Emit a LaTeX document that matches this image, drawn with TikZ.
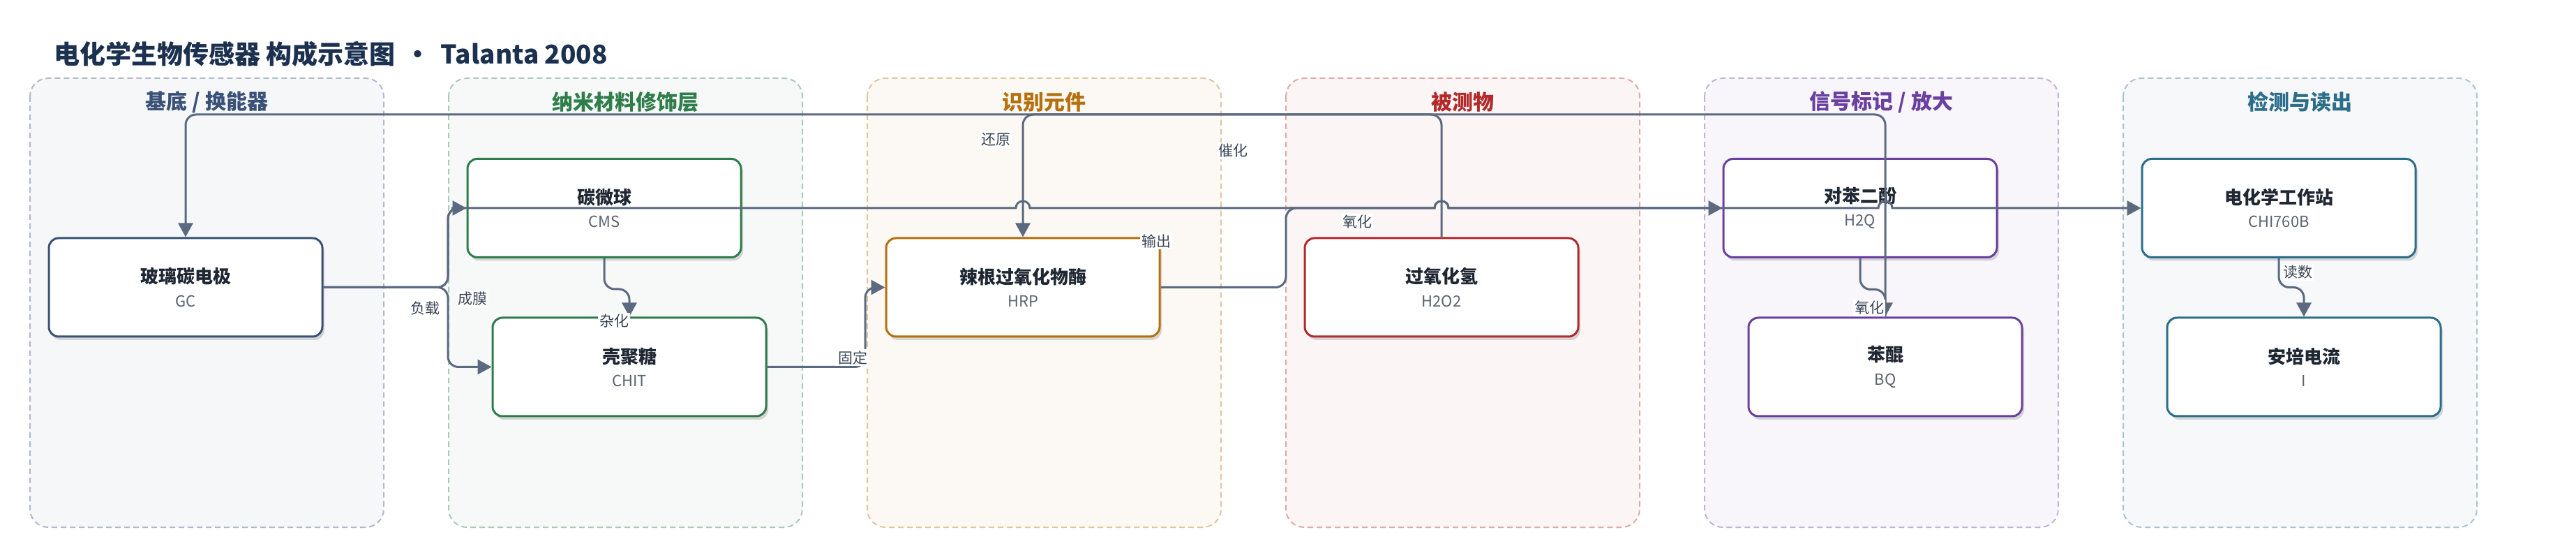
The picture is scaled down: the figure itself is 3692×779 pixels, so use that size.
\documentclass[tikz,border=0pt]{standalone}
\usepackage{fontspec}
\setmainfont{Noto Sans CJK SC}
\usepackage{tikz}
\usetikzlibrary{arrows.meta, shadows}

% colours
\definecolor{edgeC}{HTML}{5B6A80}
\definecolor{titleC}{HTML}{1C3150}
\definecolor{inkC}{HTML}{1F2733}
\definecolor{subC}{HTML}{5B6472}
\definecolor{lblC}{HTML}{3A4556}
\definecolor{pA}{HTML}{3B5278}
\definecolor{pB}{HTML}{2E7D4A}
\definecolor{pC}{HTML}{B5700C}
\definecolor{pD}{HTML}{B22A2A}
\definecolor{pE}{HTML}{6A3FA0}
\definecolor{pF}{HTML}{2C6E8A}

\newcommand{\subtag}[1]{{\mdseries\fontsize{11pt}{16.6pt}\selectfont\color{subC}#1}}

\tikzset{
    panel/.style={draw=#1!40, fill=#1!4.5, line width=1pt, dash pattern=on 4pt off 2.5pt, rounded corners=13pt},
    zone/.style={text=#1, font=\fontsize{15pt}{18pt}\selectfont\bfseries, inner sep=0pt},
    box/.style={draw=#1, fill=white, line width=1.5pt, rounded corners=7pt,
        minimum width=196pt, minimum height=70.5pt, align=center, text=inkC,
        font=\fontsize{13pt}{16.6pt}\selectfont\bfseries,
        drop shadow={shadow xshift=1.5pt, shadow yshift=-2.5pt, opacity=.14, fill=black}},
    flow/.style={draw=edgeC, line width=1.5pt, rounded corners=7.5pt, -{Triangle[length=10pt,width=10.5pt]}},
    lbl/.style={fill=white, text=lblC, font=\fontsize{10.5pt}{12pt}\selectfont, inner sep=1pt}
}

\begin{document}
\begin{tikzpicture}[x=0.5pt, y=-0.5pt]
    \fill[white] (0,0) rectangle (3692,779);
    \useasboundingbox (0,0) rectangle (3692,779);

    % title
    \node[anchor=west, inner sep=0pt, text=titleC, font=\fontsize{18.5pt}{22pt}\selectfont\bfseries] (title) at (77,77)
        {电化学生物传感器 构成示意图\hspace{7pt}·\hspace{7pt}Talanta 2008};

    % panels
    \foreach \i/\c/\t in {
        0/pA/{基底 / 换能器},
        1/pB/纳米材料修饰层,
        2/pC/识别元件,
        3/pD/被测物,
        4/pE/{信号标记 / 放大},
        5/pF/检测与读出}
    {
        \draw[panel=\c] (43+600*\i,112) rectangle ++(507,643);
        \node[zone=\c] (zone\i) at (296.5+600*\i,146) {\t};
    }

    % components
    \node[box=pA] (gc)   at (266,411.5)  {玻璃碳电极\\\subtag{GC}};
    \node[box=pB] (cms)  at (866,298)    {碳微球\\\subtag{CMS}};
    \node[box=pB] (chit) at (902,525.5)  {壳聚糖\\\subtag{CHIT}};
    \node[box=pC] (hrp)  at (1466,411.5) {辣根过氧化物酶\\\subtag{HRP}};
    \node[box=pD] (hp)   at (2066,411.5) {过氧化氢\\\subtag{H2O2}};
    \node[box=pE] (hq)   at (2666,298)   {对苯二酚\\\subtag{H2Q}};
    \node[box=pE] (bq)   at (2702,525.5) {苯醌\\\subtag{BQ}};
    \node[box=pF] (chi)  at (3266,298)   {电化学工作站\\\subtag{CHI760B}};
    \node[box=pF] (amp)  at (3302,525.5) {安培电流\\\subtag{I}};

    % routing lanes
    \coordinate (busG) at (642,0);
    \coordinate (busH) at (1240,0);
    \coordinate (busP) at (1843,0);
    \coordinate (topY) at (0,164);

    % connectors
    \draw[flow] (gc.east) -| (busG |- cms.west) -- (cms.west);
    \draw[flow] (gc.east) -| (busG |- chit.west) -- (chit.west);
    \draw[flow] (cms.south) -- ++(0,44) -| (chit.north);
    \draw[flow] (chit.east) -| (busH |- hrp.west) -- (hrp.west);
    \draw[flow] (hp.north) |- (hrp.north |- topY) -- (hrp.north);
    \draw[flow] (bq.north) |- (gc.north |- topY) -- (gc.north);
    \draw[flow] (hq.south) -- ++(0,44.5) -| (bq.north);
    \draw[flow] (chi.south) -- ++(0,41.5) -| (amp.north);

    % long runs on the middle lane, hopping over the risers
    \draw[flow] (gc.east) -| (busG |- chi.west) -- ++(20,0) [sharp corners]
        \foreach \h in {hrp,hp,bq} {
            -- ([xshift=-5pt]\h.north |- chi.west)
            .. controls ([xshift=-5pt,yshift=6.65pt]\h.north |- chi.west)
            and ([xshift=5pt,yshift=6.65pt]\h.north |- chi.west)
            .. ([xshift=5pt]\h.north |- chi.west)
        } -- (chi.west);
    \draw[flow] (hrp.east) -| (busP |- hq.west) -- ++(20,0) [sharp corners]
        \foreach \h in {hp} {
            -- ([xshift=-5pt]\h.north |- hq.west)
            .. controls ([xshift=-5pt,yshift=6.65pt]\h.north |- hq.west)
            and ([xshift=5pt,yshift=6.65pt]\h.north |- hq.west)
            .. ([xshift=5pt]\h.north |- hq.west)
        } -- (hq.west);

    % connector labels
    \node[lbl] (lbLoad)  at (609,442)  {负载};
    \node[lbl] (lbFilm)  at (677,428)  {成膜};
    \node[lbl] (lbHyb)   at (880,460)  {杂化};
    \node[lbl] (lbFix)   at (1222,512) {固定};
    \node[lbl] (lbOut)   at (1657,345) {输出};
    \node[lbl] (lbOxA)   at (1945,318) {氧化};
    \node[lbl] (lbCat)   at (1767,216) {催化};
    \node[lbl] (lbRed)   at (1427,200) {还原};
    \node[lbl] (lbOxB)   at (2679,441) {氧化};
    \node[lbl] (lbRead)  at (3293,390) {读数};
\end{tikzpicture}
\end{document}
